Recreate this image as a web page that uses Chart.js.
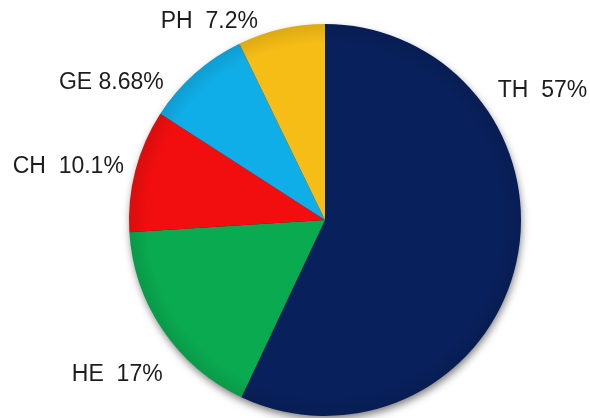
<!DOCTYPE html>
<html>
<head>
<meta charset="utf-8">
<script src="https://cdn.jsdelivr.net/npm/chart.js@4/dist/chart.umd.min.js"></script>
<style>
    html, body { margin: 0; padding: 0; background: #fff; }
    #wrap { width: 590px; height: 418px; position: relative; }
</style>
</head>
<body>
<div id="wrap"><canvas id="pieChart"></canvas></div>
<script>
const categories = ['TH', 'HE', 'CH', 'GE', 'PH'];
const shares = [57, 17, 10.1, 8.68, 7.2];
const labelGaps = ['  ', '  ', '  ', ' ', '  '];
const sliceColors = ['#08205c', '#0aab50', '#f20e0e', '#10aee8', '#f6bd16'];

// where each label sits, as an offset from the pie centre in radius units
const labelSpots = [[1.11, -0.66], [-1.06, 0.79], [-1.31, -0.27], [-1.09, -0.70], [-0.59, -1.01]];

const pieDecor = {
    id: 'pieDecor',
    beforeDatasetsDraw(chart) {
        const arc = chart.getDatasetMeta(0).data[0];
        const ctx = chart.ctx;
        ctx.save();
        ctx.shadowColor = 'rgba(0, 0, 0, 0.55)';
        ctx.shadowBlur = 8;
        ctx.shadowOffsetX = 1;
        ctx.shadowOffsetY = 4;
        ctx.fillStyle = '#08205c';
        ctx.beginPath();
        ctx.arc(arc.x, arc.y, arc.outerRadius - 1, 0, Math.PI * 2);
        ctx.fill();
        ctx.restore();
    },
    afterDatasetsDraw(chart) {
        const arc = chart.getDatasetMeta(0).data[0];
        const ctx = chart.ctx;
        const r = arc.outerRadius;
        ctx.save();
        const g = ctx.createRadialGradient(arc.x, arc.y, r * 0.9, arc.x, arc.y, r);
        g.addColorStop(0, 'rgba(0, 0, 0, 0)');
        g.addColorStop(1, 'rgba(0, 0, 0, 0.1)');
        ctx.fillStyle = g;
        ctx.beginPath();
        ctx.arc(arc.x, arc.y, r, 0, Math.PI * 2);
        ctx.fill();

        ctx.font = '23px "Liberation Sans", Arial, sans-serif';
        ctx.fillStyle = '#1c1c1c';
        ctx.textAlign = 'center';
        ctx.textBaseline = 'middle';
        categories.forEach((cat, i) => {
            const text = cat + labelGaps[i] + shares[i] + '%';
            ctx.fillText(text, arc.x + labelSpots[i][0] * r, arc.y + labelSpots[i][1] * r);
        });
        ctx.restore();
    }
};

const ctx = document.getElementById('pieChart').getContext('2d');
new Chart(ctx, {
    type: 'pie',
    data: {
        labels: categories,
        datasets: [{
            data: shares,
            backgroundColor: sliceColors,
            borderWidth: 0
        }]
    },
    options: {
        responsive: true,
        maintainAspectRatio: false,
        animation: false,
        layout: { padding: { top: 24, bottom: 2, left: 129, right: 69 } },
        plugins: {
            legend: { display: false },
            tooltip: { enabled: false }
        }
    },
    plugins: [pieDecor]
});
</script>
</body>
</html>
